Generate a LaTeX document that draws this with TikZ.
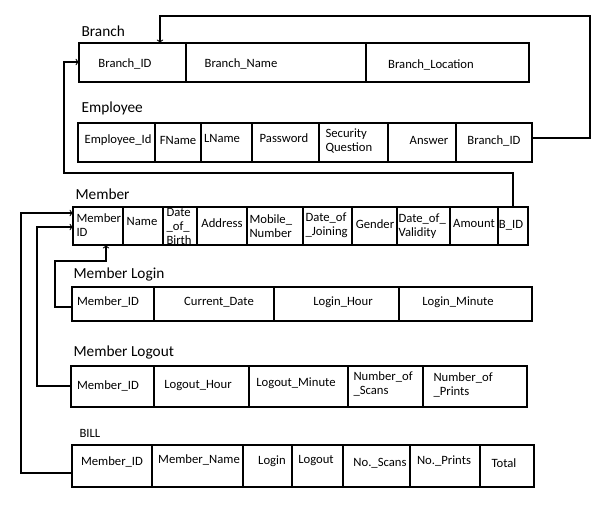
\documentclass[tikz,border=0pt]{standalone}
\usepackage{fontspec}
\setmainfont{Carlito}
\usetikzlibrary{arrows}
\tikzset{
  cell/.style={font=\fontsize{9.5}{10.5}\selectfont, inner sep=0pt},
  mcell/.style={cell, align=left, anchor=west},
  title/.style={font=\fontsize{11.5}{13}\selectfont, inner sep=0pt, anchor=west},
  link/.style={thick, ->},
}
\begin{document}
\begin{tikzpicture}[x=0.75pt, y=-0.75pt, thick]
\useasboundingbox (0,0) rectangle (597,517);

% Branch
\node[title] (tbranch) at (81,31) {Branch};
\draw (79,43) rectangle (529,82);
\foreach \x in {186,366} \draw (\x,43) -- (\x,82);
\node[cell] (brid) at (125,64) {Branch\_ID};
\node[cell] (brname) at (241,64) {Branch\_Name};
\node[cell] (brloc) at (431,65) {Branch\_Location};
\coordinate (brtop) at (160,43);
\coordinate (brleft) at (79,62);

% Employee
\node[title] (temp) at (81,108) {Employee};
\draw (78,123) rectangle (532,162);
\foreach \x in {155,201,252,319,388,456} \draw (\x,123) -- (\x,162);
\node[cell] (empid) at (118,140) {Employee\_Id};
\node[cell] (empfn) at (178,140) {FName};
\node[cell] (empln) at (222,138) {LName};
\node[cell] (emppw) at (284,138) {Password};
\node[mcell] (empsq) at (325,141) {Security\\Question};
\node[cell] (empans) at (429,140) {Answer};
\node[cell] (empbid) at (494,141) {Branch\_ID};
\coordinate (empout) at (532,138);

% Member
\node[title] (tmem) at (75,194) {Member};
\draw (73,207) rectangle (528,245);
\foreach \x in {123,163,197,247,303,352,397,450,498} \draw (\x,207) -- (\x,245);
\node[mcell] (memid) at (76,225) {Member\\ID};
\node[cell] (memname) at (142,221) {Name};
\node[mcell] (memdob) at (166,226) {Date\\\_of\_\\Birth};
\node[cell] (memaddr) at (222,223) {Address};
\node[mcell] (memmob) at (249,226.5) {Mobile\_\\Number};
\node[mcell] (memdoj) at (305,225) {Date\_of\\\_Joining};
\node[cell] (memgen) at (375,224) {Gender};
\node[mcell] (memdov) at (398,226) {Date\_of\_\\Validity};
\node[cell] (memamt) at (474,223) {Amount};
\node[cell] (membidt) at (511,225) {B\_ID};
\coordinate (membid) at (513,207);
\coordinate (memid1) at (73,213);
\coordinate (memid2) at (73,227);
\coordinate (membot) at (106,245);

% Member Login
\node[title] (tlogin) at (73,274) {Member Login};
\draw (72,287) rectangle (532,321);
\foreach \x in {154,274,399} \draw (\x,287) -- (\x,321);
\node[cell] (liid) at (108,302) {Member\_ID};
\node[cell] (lidate) at (219,302) {Current\_Date};
\node[cell] (lihour) at (343,302) {Login\_Hour};
\node[cell] (limin) at (458,302) {Login\_Minute};
\coordinate (loginin) at (72,307);

% Member Logout
\node[title] (tlogout) at (73,352) {Member Logout};
\draw (71,366) rectangle (527,407);
\foreach \x in {154,249,348,423} \draw (\x,366) -- (\x,407);
\node[cell] (loid) at (108,386) {Member\_ID};
\node[cell] (lohour) at (198,386) {Logout\_Hour};
\node[cell] (lomin) at (296,383) {Logout\_Minute};
\node[mcell] (loscan) at (353,384) {Number\_of\\\_Scans};
\node[mcell] (loprint) at (433,385) {Number\_of\\\_Prints};
\coordinate (logoutin) at (71,386);

% BILL
\node[title, font=\fontsize{9.5}{11}\selectfont] (tbill) at (79,433) {BILL};
\draw (72,445) rectangle (534,487);
\foreach \x in {152,243,292,343,410,480} \draw (\x,445) -- (\x,487);
\node[cell] (biid) at (112,462) {Member\_ID};
\node[cell] (biname) at (199,460) {Member\_Name};
\node[cell] (bilogin) at (272,461) {Login};
\node[cell] (bilogout) at (316,461) {Logout};
\node[cell] (biscan) at (380,463) {No.\_Scans};
\node[cell] (biprint) at (444,461) {No.\_Prints};
\node[cell] (bitotal) at (504,463) {Total};
\coordinate (billin) at (72,473);

% links
\draw[link] (empout) -- ++(58,0) -- ++(0,-122) -| (brtop);
\draw[link] (membid) -- ++(0,-34) -- ++(-449,0) |- (brleft);
\draw[link] (loginin) -- ++(-17,0) -- ++(0,-46) -| (membot);
\draw[link] (logoutin) -- ++(-34,0) |- (memid2);
\draw[link] (billin) -- ++(-51,0) |- (memid1);

\end{tikzpicture}
\end{document}
